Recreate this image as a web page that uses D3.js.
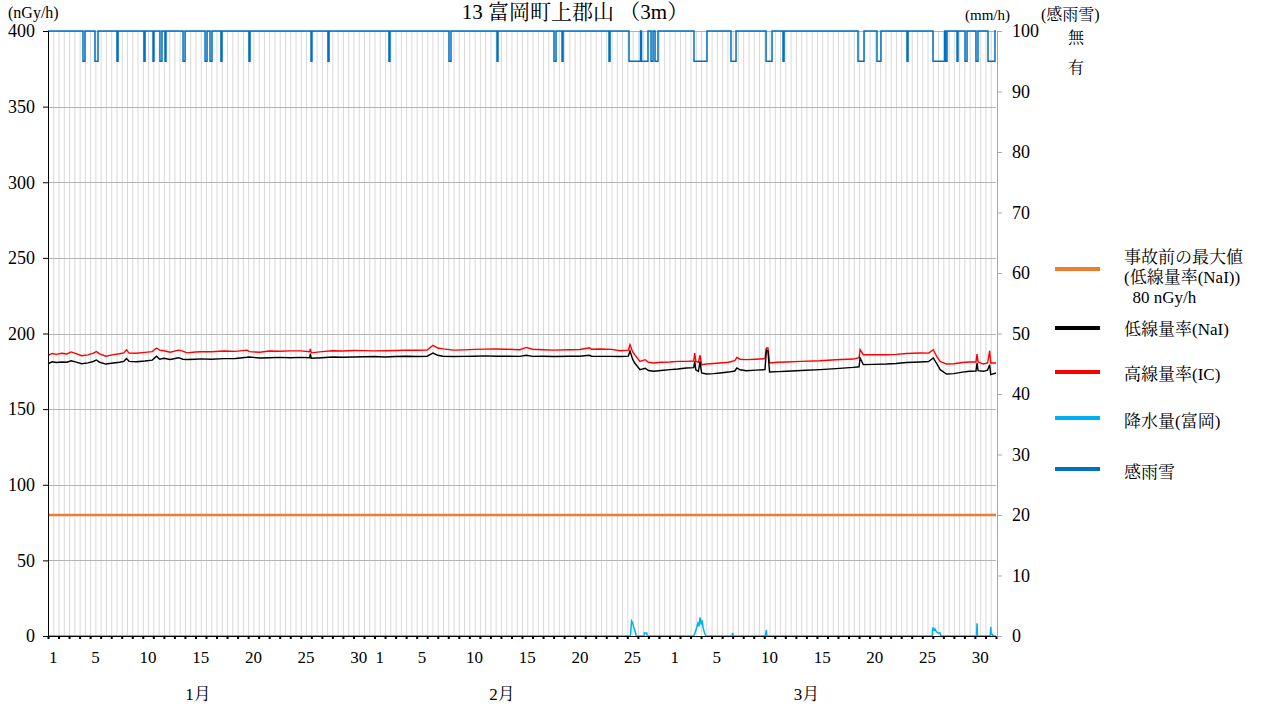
<!DOCTYPE html>
<html>
<head>
<meta charset="utf-8">
<script src="https://cdn.jsdelivr.net/npm/d3@7"></script>
<style>
  body { margin: 0; background: #fff; }
  svg { font-family: 'Liberation Serif', 'Noto Serif CJK JP', 'Noto Sans CJK JP', serif; }
</style>
</head>
<body>
<div id="graph"></div>
<script>
const svgw = 1266
const svgh = 709
const plotLeft = 48
const plotRight = 996
const plotTop = 31
const plotBottom = 636

// time in days from Jan 1 00:00
const days = [0, 0.4, 0.8, 1.3, 1.8, 2.2, 2.6, 3.2, 3.8, 4.3, 4.6, 4.9, 5.5, 6.2, 6.8, 7.2, 7.45, 7.7, 8.4, 9.2,
    9.9, 10.3, 10.6, 11, 11.6, 12.4, 12.8, 13.2, 14, 14.5, 15.5, 16.7, 17.8, 18.9, 19.1, 20.1, 21, 22, 23, 24,
    24.85, 24.9, 25, 26, 27, 28, 29, 30, 31, 32, 33, 34, 35, 36, 36.55, 37, 37.5, 38.5, 39.5, 40.5,
    41.5, 42.5, 43.5, 44.8, 45.4, 46, 47, 48, 49.5, 50.5, 51.4, 51.6, 52.4, 53.5, 54.3, 55.1, 55.25, 55.5, 55.7, 56.2,
    56.7, 57, 57.5, 58.2, 59.05, 59.8, 60.6, 61.3, 61.4, 61.5, 61.75, 61.9, 62.05, 62.5, 63.2, 63.8, 64.6, 65.2, 65.4, 65.7,
    66.3, 67.2, 68.07, 68.2, 68.35, 68.5, 69.3, 70.1, 71.5, 73.3, 74.8, 76.45, 77, 77.1, 77.4, 78.4, 79.6, 80.5, 81.5, 82.8,
    83.6, 84.05, 84.4, 84.7, 85.3, 86, 86.8, 87.5, 88.1, 88.2, 88.3, 88.8, 89.2, 89.4, 89.5, 90]
const nai = [180, 181.3, 180.8, 181.2, 181, 182, 181.2, 180, 180.6, 181.5, 182.5, 181, 179.8, 180.5, 181, 181.6, 183.5, 181.6, 181.3, 181.8,
    182.4, 185, 183, 183.6, 182.8, 184, 183, 182.8, 183, 183.2, 183, 183.4, 183.5, 184.3, 184.5, 183.8, 184, 184.2, 184, 184.2,
    184, 186.6, 183.6, 184, 184.5, 184.3, 184.5, 184.6, 184.8, 184.5, 184.8, 185, 184.8, 185, 187.1, 185.6, 185, 184.8, 184.9, 185,
    185.2, 185, 185, 184.9, 185.6, 184.9, 185, 184.8, 185, 185, 185.6, 185, 184.9, 184.9, 184.8, 185, 188.5, 183, 180.5, 176.1,
    177, 175.5, 175, 175.5, 176.1, 176.5, 177.2, 177.4, 181.6, 176, 175, 181.6, 174, 173.2, 173.5, 173.9, 174.5, 175.2, 177.2, 176,
    175.4, 175.8, 176.1, 189, 188.5, 174.6, 174.8, 175, 175.5, 176.1, 176.8, 177.6, 178, 183.8, 179.4, 179.6, 179.8, 180.2, 180.8, 181.2,
    181.5, 183.8, 179.8, 176.1, 173.2, 173.5, 174.5, 175, 175.2, 180.5, 175.4, 175, 175.8, 179.4, 172.8, 173.9]
const ic = [185.5, 186.8, 186.2, 186.9, 186.5, 187.8, 186.8, 185.3, 185.9, 187, 188, 186.5, 185, 186, 186.6, 187.2, 189.2, 187, 186.9, 187.5,
    188, 190.4, 189, 188.6, 187.6, 189, 188.4, 187.2, 187.8, 187.9, 187.9, 188.4, 188.2, 189, 188, 187.6, 188.4, 188.3, 188.5, 188.5,
    188, 189.8, 187.2, 188, 188.6, 188.4, 188.8, 188.7, 188.5, 188.6, 188.8, 189, 188.9, 189, 192.2, 190.4, 189.8, 189, 189.2, 189.5,
    189.7, 189.8, 189.6, 189.3, 190.8, 189.6, 189.3, 189, 189.3, 189.4, 190.6, 189.6, 189.8, 189.5, 188.6, 189, 192.6, 188, 186, 181.6,
    182.7, 181, 180.5, 181, 181.2, 181.6, 181.6, 181.8, 187.1, 181.6, 181, 185.6, 179.4, 179.8, 180.2, 180.5, 181, 182, 184.2, 183,
    182.7, 183, 183.4, 190.4, 190.4, 180.5, 181, 181.2, 181.6, 182, 182.6, 183.1, 184, 189.3, 186, 186, 186, 186.2, 186.8, 187.1,
    187, 189.3, 184.5, 181.6, 179.8, 180, 180.8, 181.2, 181.2, 186.4, 181.2, 179.8, 180.5, 188.6, 180.5, 180.5]

// precipitation (Tomioka), mm/h
const rainDays = [0, 55.3, 55.4, 55.5, 55.6, 55.75, 55.85, 56.6, 56.62, 56.85, 56.87, 61.3, 61.4, 61.55, 61.7, 61.8, 61.9, 62, 62.1, 62.2,
    62.35, 62.45, 64.95, 65, 65.05, 68.1, 68.2, 68.25, 83.95, 84, 84.1, 84.2, 84.35, 84.5, 84.7, 84.75, 88.15, 88.2, 88.25, 89.45,
    89.5, 89.55, 89.65, 89.7, 90]
const rainMm = [0, 0, 2.5, 2.2, 1.5, 0.7, 0, 0, 0.5, 0.5, 0, 0, 0.4, 1.2, 2.1, 1.6, 3.1, 1.9, 2.6, 1.3,
    0.4, 0, 0, 0.5, 0, 0, 1.0, 0, 0, 1.4, 1.0, 1.2, 0.7, 0.5, 0.5, 0, 0, 2.1, 0, 0,
    1.5, 0.3, 0.3, 0, 0]

// rain/snow sensor: periods with 有
const wetStart = [3.32, 4.46, 6.55, 9.11, 9.97, 10.63, 11.11, 12.82, 14.91, 15.38, 16.42, 19.08, 24.97, 26.58, 32.37, 38.07, 42.63, 48.04, 48.8, 53.26,
    55.16, 56.35, 57.25, 57.63, 61.33, 64.84, 68.17, 69.78, 76.9, 78.7, 81.55, 84.02, 85.2, 86.3, 87.06, 88.1, 89.24]
const wetEnd = [3.51, 4.75, 6.65, 9.21, 10.06, 10.82, 11.2, 13.01, 15.1, 15.57, 16.52, 19.18, 25.06, 26.68, 32.47, 38.26, 42.72, 48.23, 48.9, 53.36,
    56.25, 56.96, 57.44, 57.91, 62.56, 65.32, 68.74, 69.88, 77.47, 79.08, 81.65, 85.12, 85.35, 86.39, 87.25, 88.29, 89.9]

const maxBefore = 80
const leftTicks = [0, 50, 100, 150, 200, 250, 300, 350, 400]
const rightTicks = [0, 10, 20, 30, 40, 50, 60, 70, 80, 90, 100]
const monthNames = ['1月', '2月', '3月']
const monthStart = [0, 31, 59]
const monthLen = [31, 28, 31]
const dayLabels = [1, 5, 10, 15, 20, 25, 30]
const monthLabelDay = [14.25, 43.1, 72]

const svg = d3.select('#graph')
    .append('svg')
    .attr('width', svgw)
    .attr('height', svgh)

const xScale = d3.scaleLinear().domain([0, 90]).range([plotLeft, plotRight])
const yLeft = d3.scaleLinear().domain([0, 400]).range([plotBottom, plotTop])
const yRight = d3.scaleLinear().domain([0, 100]).range([plotBottom, plotTop])
const yWet = d3.scaleOrdinal().domain(['無', '有']).range([yRight(100), yRight(95)])

// vertical grid every 12 hours
svg.append('g')
    .selectAll('line')
    .data(d3.range(0.5, 90, 0.5))
    .enter()
    .append('line')
    .attr('x1', d => xScale(d) + 0.5)
    .attr('x2', d => xScale(d) + 0.5)
    .attr('y1', plotTop)
    .attr('y2', plotBottom)
    .attr('stroke', '#d9d9d9')

svg.append('g')
    .selectAll('line')
    .data(leftTicks.slice(1))
    .enter()
    .append('line')
    .attr('x1', plotLeft)
    .attr('x2', plotRight)
    .attr('y1', d => Math.round(yLeft(d)) + 0.5)
    .attr('y2', d => Math.round(yLeft(d)) + 0.5)
    .attr('stroke', '#b4b4b4')

// pre-accident maximum
svg.append('line')
    .attr('x1', plotLeft)
    .attr('x2', plotRight)
    .attr('y1', yLeft(maxBefore))
    .attr('y2', yLeft(maxBefore))
    .attr('stroke', '#ed7d31')
    .attr('stroke-width', 2.5)

const rain = rainDays.map((d, i) => [d, rainMm[i]])
svg.append('path')
    .datum(rain)
    .attr('fill', 'none')
    .attr('stroke', '#00b0f0')
    .attr('stroke-width', 1.5)
    .attr('d', d3.line().x(d => xScale(d[0])).y(d => yRight(d[1])))

const doseLine = d3.line().x((d, i) => xScale(days[i])).y(d => yLeft(d))
svg.append('path')
    .datum(ic)
    .attr('fill', 'none')
    .attr('stroke', '#ff0000')
    .attr('stroke-width', 1.4)
    .attr('d', doseLine)

svg.append('path')
    .datum(nai)
    .attr('fill', 'none')
    .attr('stroke', '#000')
    .attr('stroke-width', 1.4)
    .attr('d', doseLine)

// step line for 感雨雪
const wet = [[0, '無']]
wetStart.forEach((s, i) => {
    wet.push([s, '無'], [s, '有'], [wetEnd[i], '有'], [wetEnd[i], '無'])
})
wet.push([90, '無'])
svg.append('path')
    .datum(wet)
    .attr('fill', 'none')
    .attr('stroke', '#0070c0')
    .attr('stroke-width', 1.5)
    .attr('d', d3.line().x(d => xScale(d[0])).y(d => yWet(d[1])))

// axes
const yAxis = svg.append('g')
    .attr('transform', `translate(${plotLeft},0)`)
    .call(d3.axisLeft(yLeft).tickValues(leftTicks).tickSize(5).tickPadding(8))
yAxis.attr('font-family', null)
yAxis.selectAll('path, line').attr('stroke', '#000')
yAxis.selectAll('text').attr('font-size', 18).attr('fill', '#000')

const yAxisR = svg.append('g')
    .attr('transform', `translate(${plotRight + 1},0)`)
    .call(d3.axisRight(yRight).tickValues(rightTicks).tickSize(5).tickPadding(10))
yAxisR.attr('font-family', null)
yAxisR.selectAll('path, line').attr('stroke', '#a6a6a6')
yAxisR.selectAll('text').attr('font-size', 18).attr('fill', '#000')

const xAxis = svg.append('g')
    .attr('transform', `translate(0,${plotBottom})`)
    .call(d3.axisBottom(xScale).tickValues(d3.range(0, 91)).tickSize(3).tickFormat(''))
xAxis.selectAll('line').attr('stroke', '#000').attr('stroke-width', 2).attr('stroke-dasharray', '0,1,2')
xAxis.select('.domain').attr('stroke', '#000')

monthStart.forEach((m, i) => {
    svg.append('g')
        .selectAll('text')
        .data(dayLabels.filter(d => d <= monthLen[i]))
        .enter()
        .append('text')
        .attr('x', d => xScale(m + d - 0.5))
        .attr('y', 663)
        .attr('text-anchor', 'middle')
        .attr('font-size', 17)
        .text(d => d)
})

svg.append('g')
    .selectAll('text')
    .data(monthNames)
    .enter()
    .append('text')
    .attr('x', (d, i) => xScale(monthLabelDay[i]))
    .attr('y', 700)
    .attr('text-anchor', 'middle')
    .attr('font-size', 17)
    .text(d => d)

// titles
svg.append('text')
    .attr('x', 575)
    .attr('y', 19)
    .attr('text-anchor', 'middle')
    .attr('font-size', 21)
    .text('13 富岡町上郡山 （3m）')

svg.append('text').attr('x', 8).attr('y', 18).attr('font-size', 16).text('(nGy/h)')
svg.append('text').attr('x', 1010).attr('y', 20).attr('text-anchor', 'end').attr('font-size', 15).text('(mm/h)')
svg.append('text').attr('x', 1041).attr('y', 20).attr('font-size', 16).text('(感雨雪)')

yWet.domain().forEach(d => {
    svg.append('text')
        .attr('x', 1076)
        .attr('y', yWet(d) + 12)
        .attr('text-anchor', 'middle')
        .attr('font-size', 16)
        .text(d)
})

// legend
const legendItems = [
    { color: '#ed7d31', y: 269, lines: ['事故前の最大値', '(低線量率(NaI))', '  80 nGy/h'], ty: 263 },
    { color: '#000', y: 328, lines: ['低線量率(NaI)'], ty: 335 },
    { color: '#ff0000', y: 372, lines: ['高線量率(IC)'], ty: 380 },
    { color: '#00b0f0', y: 418, lines: ['降水量(富岡)'], ty: 427 },
    { color: '#0070c0', y: 469, lines: ['感雨雪'], ty: 478 }
]
legendItems.forEach(item => {
    svg.append('line')
        .attr('x1', 1055)
        .attr('x2', 1100)
        .attr('y1', item.y)
        .attr('y2', item.y)
        .attr('stroke', item.color)
        .attr('stroke-width', 4)
    item.lines.forEach((t, j) => {
        svg.append('text')
            .attr('x', 1124)
            .attr('y', item.ty + j * 20)
            .attr('font-size', 17)
            .style('white-space', 'pre')
            .text(t)
    })
})
</script>
</body>
</html>
